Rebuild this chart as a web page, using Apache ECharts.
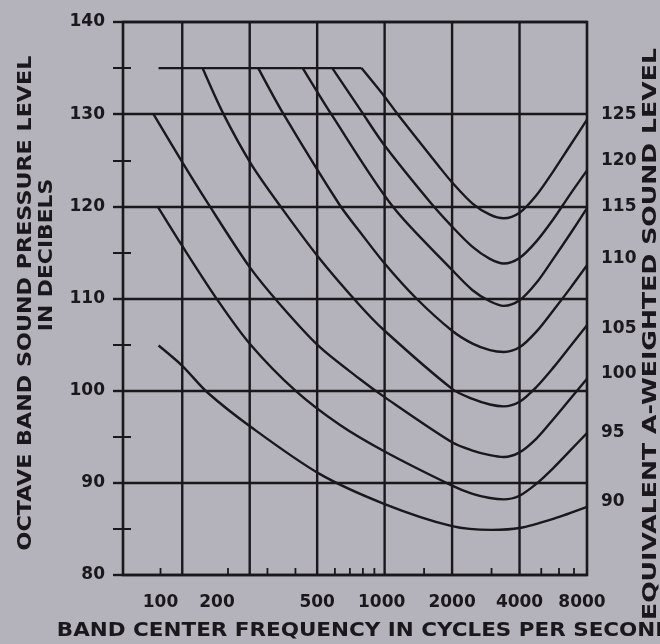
<!DOCTYPE html>
<html><head><meta charset="utf-8">
<script src="https://cdn.jsdelivr.net/npm/echarts@6/dist/echarts.min.js"></script>
<style>html,body{margin:0;padding:0;background:#b4b2ba;} #c{width:660px;height:644px;}</style>
</head><body><div id="c"></div>
<script>
// ---- data ----
const gridFreqs = [125, 250, 500, 1000, 2000, 4000];
const minorTickFreqs = [100, 200, 300, 400, 600, 700, 800, 900, 1500, 3000, 5000, 6000, 7000];
const xTickLabels = [100, 200, 500, 1000, 2000, 4000, 8000];
const yTicks = [80, 90, 100, 110, 120, 130, 140];
const curveNames = ['125', '120', '115', '110', '105', '100', '95', '90'];
const plateau = [[98,135],[788,135]];
const c125 = [[788,135],[1000,131.9],[1143,130],[1752,124.3],[2000,122.6],[2468,120.3],[2950,119.1],[3400,118.7],[4000,119.3],[4757,121.2],[5657,123.8],[6727,126.6],[8000,129.4]];
const c120 = [[584,135],[788,130.3],[1000,126.6],[1615,120.3],[2000,117.8],[2468,115.6],[2950,114.3],[3400,113.8],[4000,114.4],[4757,116.2],[5657,118.6],[6727,121.3],[8000,123.9]];
const c115 = [[431,135],[578,130],[1085,120],[2000,113.1],[2468,110.9],[2950,109.7],[3400,109.2],[4000,109.8],[4757,111.7],[5657,114.3],[6727,117.0],[8000,119.8]];
const c110 = [[273,135],[354,130],[628,120.2],[772,117.3],[1000,113.8],[1386,110],[2000,106.5],[2468,105.1],[2950,104.4],[3400,104.2],[4000,104.7],[4757,106.4],[5657,108.7],[6727,111.1],[8000,113.6]];
const c105 = [[154,135],[191,130],[255,124.5],[343,120.0],[510,114.4],[772,109.3],[1000,106.5],[2000,100.2],[2468,99.1],[2950,98.5],[3400,98.3],[4000,98.8],[4757,100.4],[5657,102.5],[6727,104.8],[8000,107.1]];
const c100 = [[93,130],[125,124.8],[162,120.4],[250,113.4],[343,109.3],[510,104.8],[772,101.3],[1000,99.3],[2000,94.4],[2468,93.5],[2950,93.0],[3400,92.8],[4000,93.3],[4757,94.8],[5657,96.9],[6727,99.1],[8000,101.3]];
const c95  = [[97,120],[125,115.7],[180,109.8],[250,105.1],[400,100.0],[630,96.3],[1000,93.4],[2000,89.7],[2468,88.8],[2950,88.35],[3400,88.2],[4000,88.6],[4757,89.9],[5657,91.6],[6727,93.5],[8000,95.4]];
const c90  = [[98,104.9],[125,102.7],[162,99.8],[255,96.0],[510,91.0],[1000,87.7],[2000,85.3],[3000,84.9],[4000,85.1],[5657,86.1],[8000,87.4]];
const curves = [c125, c120, c115, c110, c105, c100, c95, c90];

// ---- style ----
const INK = '#1a181d';
const FONT = '"DejaVu Sans", sans-serif';
const endLabelDy = [-5, -10, -2, -7, 3, -5, 0, -5];
const xLabelDx = [0, -11, 0, -3, 0, 0, -5];
const X_MIN = 68, X_MAX = 8000;
const Y_MIN = yTicks[0], Y_MAX = yTicks[yTicks.length - 1];

const chart = echarts.init(document.getElementById('c'), null, {renderer: 'canvas'});

const series = [];
series.push({
  type: 'custom', z: 1, clip: false, silent: true,
  data: gridFreqs.map(f => [f, Y_MIN]),
  encode: {x: 0, y: 1},
  renderItem: (params, api) => {
    const f = api.value(0);
    const p0 = api.coord([f, Y_MIN]), p1 = api.coord([f, Y_MAX]);
    return {type: 'line', shape: {x1: p0[0], y1: p0[1], x2: p1[0], y2: p1[1]}, style: {stroke: INK, lineWidth: 2.4}};
  }
});
series.push({
  type: 'custom', z: 1, clip: false, silent: true,
  data: minorTickFreqs.map(f => [f, Y_MIN]),
  encode: {x: 0, y: 1},
  renderItem: (params, api) => {
    const p = api.coord([api.value(0), Y_MIN]);
    return {type: 'line', shape: {x1: p[0], y1: p[1], x2: p[0], y2: p[1] - 7}, style: {stroke: INK, lineWidth: 1.8}};
  }
});
series.push({
  type: 'custom', z: 3, clip: false, silent: true,
  data: xTickLabels.map(f => [f, Y_MIN]),
  encode: {x: 0, y: 1},
  renderItem: (params, api) => {
    const f = api.value(0);
    const p = api.coord([f, Y_MIN]);
    return {type: 'text', x: p[0] + xLabelDx[params.dataIndex], y: p[1] + 28,
      style: {text: String(f), textAlign: 'center', textVerticalAlign: 'middle', verticalAlign: 'middle',
        font: 'bold 17px ' + FONT, fill: INK}};
  }
});
series.push({
  type: 'line', name: 'plateau', data: plateau, z: 2, symbol: 'none',
  lineStyle: {color: INK, width: 2.4}
});
curves.forEach((d, i) => {
  series.push({
    type: 'line', name: curveNames[i], data: d, z: 2,
    smooth: 0.3, symbol: 'none',
    lineStyle: {color: INK, width: 2.4},
    endLabel: {show: true, formatter: '{a}', offset: [6, endLabelDy[i]], color: INK,
      fontFamily: FONT, fontWeight: 'bold', fontSize: 17}
  });
});

chart.setOption({
  animation: false,
  backgroundColor: '#b4b2ba',
  grid: {left: 123, right: 73, top: 22, bottom: 69, show: true, borderColor: INK, borderWidth: 2.6, backgroundColor: 'transparent'},
  xAxis: {type: 'log', logBase: 2, min: X_MIN, max: X_MAX,
    axisLine: {show: false}, axisTick: {show: false}, axisLabel: {show: false}, splitLine: {show: false}},
  yAxis: [
    {type: 'value', min: Y_MIN, max: Y_MAX, interval: 10,
      axisLine: {show: false},
      axisTick: {show: true, length: 10, lineStyle: {color: INK, width: 2.4}},
      minorTick: {show: true, splitNumber: 2, length: 10, lineStyle: {color: INK, width: 2}},
      axisLabel: {margin: 18, color: INK, fontFamily: FONT, fontWeight: 'bold', fontSize: 17},
      splitLine: {show: true, lineStyle: {color: INK, width: 2.4}}},
    {type: 'value', min: Y_MIN, max: Y_MAX, interval: 10, position: 'left',
      axisLine: {show: false},
      axisTick: {show: false, inside: true},
      minorTick: {show: true, splitNumber: 2, length: 8, lineStyle: {color: INK, width: 2}},
      axisLabel: {show: false}, splitLine: {show: false}}
  ],
  graphic: [
    {type: 'text', x: 26, y: 303, rotation: Math.PI / 2, scaleX: 1.17,
      style: {text: 'OCTAVE BAND SOUND PRESSURE LEVEL', font: 'bold 19px ' + FONT, fill: INK, textAlign: 'center', textVerticalAlign: 'middle', verticalAlign: 'middle'}},
    {type: 'text', x: 47, y: 255, rotation: Math.PI / 2, scaleX: 1.15,
      style: {text: 'IN DECIBELS', font: 'bold 19px ' + FONT, fill: INK, textAlign: 'center', textVerticalAlign: 'middle', verticalAlign: 'middle'}},
    {type: 'text', x: 651, y: 334, rotation: Math.PI / 2, scaleX: 1.26,
      style: {text: 'EQUIVALENT A-WEIGHTED SOUND LEVEL', font: 'bold 20px ' + FONT, fill: INK, textAlign: 'center', textVerticalAlign: 'middle', verticalAlign: 'middle'}},
    {type: 'text', x: 365, y: 631, scaleX: 1.13,
      style: {text: 'BAND CENTER FREQUENCY IN CYCLES PER SECOND', font: 'bold 19px ' + FONT, fill: INK, textAlign: 'center', textVerticalAlign: 'middle', verticalAlign: 'middle'}}
  ],
  series: series
});
</script></body></html>
